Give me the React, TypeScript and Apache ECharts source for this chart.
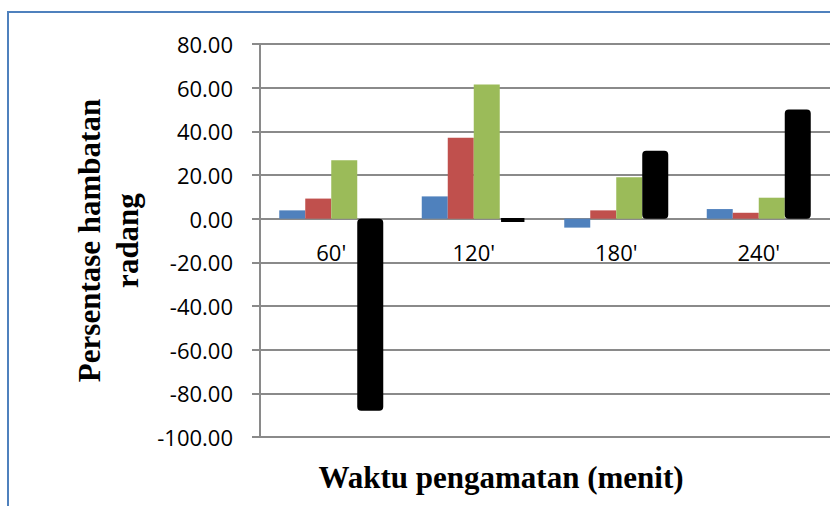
import React, { useEffect, useRef } from "react";
import * as echarts from "echarts";

const categories = ["60'", "120'", "180'", "240'"];
const seriesNames = ["Seri 1", "Seri 2", "Seri 3", "Seri 4"];
const blueValues = [3.8, 10.2, -4.1, 4.4];
const redValues = [9.2, 37.1, 3.8, 2.7];
const greenValues = [26.7, 61.5, 19.0, 9.6];
const blackValues = [-88.0, -1.2, 31.1, 50.0];
const yMin = -100;
const yMax = 80;
const yStep = 20;
const yTitle = "Persentase hambatan\nradang";
const xTitle = "Waktu pengamatan (menit)";

export default function App() {
  const ref = useRef<HTMLDivElement>(null);
  useEffect(() => {
    if (!ref.current) return;
    const chart = echarts.init(ref.current, null, { renderer: "svg" });
    const gridColor = "#8a8a8a";
    const labelFont = "'Open Sans', sans-serif";
    const serif = "'Liberation Serif', 'Times New Roman', serif";
    const barW = 26;
    const gridTop = 44;
    const gridHeight = 393;
    // move the category axis from the bottom of the grid up to the zero line
    const zeroOffset = -gridHeight * (0 - yMin) / (yMax - yMin);
    chart.setOption({
      animation: false,
      backgroundColor: "#ffffff",
      grid: { left: 260, top: gridTop, width: 571, height: gridHeight, containLabel: false },
      xAxis: {
        type: "category",
        data: categories,
        position: "bottom",
        offset: zeroOffset,
        axisLine: { show: true, onZero: false, lineStyle: { color: gridColor, width: 2 } },
        axisTick: { show: false },
        axisLabel: { interval: 0, margin: 22, fontSize: 22, color: "#000", fontFamily: labelFont },
        splitLine: { show: false },
      },
      yAxis: {
        type: "value",
        min: yMin,
        max: yMax,
        interval: yStep,
        axisLine: { show: true, onZero: false, lineStyle: { color: gridColor, width: 2 } },
        axisTick: { show: true, inside: false, length: 8, lineStyle: { color: gridColor, width: 2 } },
        axisLabel: {
          margin: 27,
          fontSize: 22,
          color: "#000",
          fontFamily: labelFont,
          formatter: (v: number) => v.toFixed(2),
        },
        splitLine: { show: true, lineStyle: { color: gridColor, width: 2 } },
        name: yTitle,
        nameLocation: "middle",
        nameRotate: 90,
        nameGap: 112,
        nameTextStyle: {
          fontFamily: serif,
          fontWeight: "bold",
          fontSize: 31,
          color: "#000",
          lineHeight: 38,
          align: "center",
        },
      },
      series: [
        { name: seriesNames[0], type: "bar", data: blueValues, barWidth: barW, barGap: "0%", itemStyle: { color: "#4F81BD" } },
        { name: seriesNames[1], type: "bar", data: redValues, barWidth: barW, barGap: "0%", itemStyle: { color: "#C0504D" } },
        { name: seriesNames[2], type: "bar", data: greenValues, barWidth: barW, barGap: "0%", itemStyle: { color: "#9BBB59" } },
        {
          name: seriesNames[3],
          type: "bar",
          data: blackValues,
          barWidth: barW,
          barGap: "0%",
          itemStyle: { color: "#000000", borderColor: "#000000", borderWidth: 4, borderRadius: 2 },
        },
      ],
      graphic: [
        {
          type: "rect",
          shape: { x: 8, y: 12, width: 900, height: 600 },
          style: { fill: "none", stroke: "#4F81BD", lineWidth: 2 },
          silent: true,
        },
        {
          type: "text",
          x: 501,
          y: 462,
          style: {
            text: xTitle,
            font: `bold 31px ${serif}`,
            fill: "#000",
            textAlign: "center",
            textVerticalAlign: "top",
          },
        },
      ],
    });
    return () => chart.dispose();
  }, []);
  return <div ref={ref} style={{ position: "absolute", left: 0, top: 0, width: 830, height: 506 }} />;
}
